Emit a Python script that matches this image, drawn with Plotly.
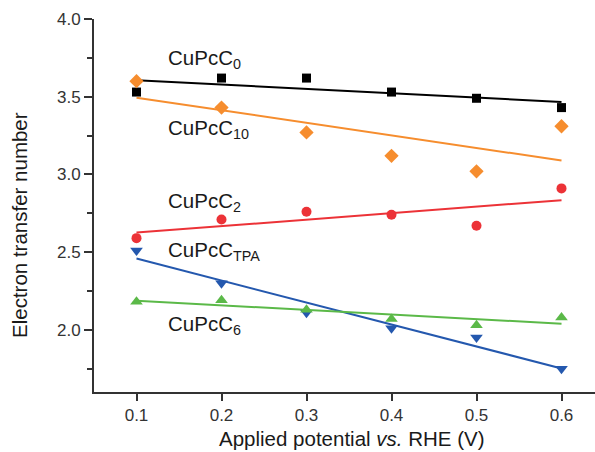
import numpy as np
import plotly.graph_objects as go

potential = [0.1, 0.2, 0.3, 0.4, 0.5, 0.6]
cupcc0 = [3.53, 3.62, 3.62, 3.53, 3.49, 3.43]
cupcc10 = [3.60, 3.43, 3.27, 3.12, 3.02, 3.31]
cupcc2 = [2.59, 2.71, 2.76, 2.74, 2.67, 2.91]
cupcctpa = [2.51, 2.30, 2.11, 2.01, 1.95, 1.75]
cupcc6 = [2.18, 2.19, 2.13, 2.07, 2.03, 2.08]

series_names = ["CuPcC<sub>0</sub>", "CuPcC<sub>10</sub>", "CuPcC<sub>2</sub>",
                "CuPcC<sub>TPA</sub>", "CuPcC<sub>6</sub>"]
series_values = [cupcc0, cupcc10, cupcc2, cupcctpa, cupcc6]
colors = ["#000000", "#F68D2E", "#EC3237", "#2458AE", "#5BB948"]
symbols = ["square", "diamond", "circle", "triangle-down", "triangle-up"]
msizes = [9, 11, 10, 11, 11]
label_x = [0.135, 0.135, 0.135, 0.135, 0.135]
label_y = [3.74, 3.29, 2.82, 2.51, 2.03]

FONT = "Liberation Sans, Arial, sans-serif"

fig = go.Figure()
xs = np.array(potential)
for name, vals, c, s, ms in zip(series_names, series_values, colors, symbols, msizes):
    k, b = np.polyfit(xs, np.array(vals), 1)
    xf = np.array([xs.min(), xs.max()])
    fig.add_trace(go.Scatter(x=xf, y=k * xf + b, mode="lines",
                             line=dict(color=c, width=2), showlegend=False,
                             hoverinfo="skip"))
    fig.add_trace(go.Scatter(x=potential, y=vals, mode="markers", name=name,
                             marker=dict(symbol=s, size=ms, color=c,
                                         line=dict(width=0)),
                             showlegend=False))

annotations = []
for name, lx, ly in zip(series_names, label_x, label_y):
    annotations.append(dict(x=lx, y=ly, xref="x", yref="y", text=name,
                            showarrow=False, xanchor="left", yanchor="middle",
                            font=dict(family=FONT, size=20.5, color="#1a1a1a")))

annotations.append(dict(x=(352 - 94) / 501, y=(392 - 438) / 373, xref="paper", yref="paper",
                        text="Applied potential <i>vs.</i> RHE (V)", showarrow=False,
                        xanchor="center", yanchor="middle",
                        font=dict(family=FONT, size=20.5, color="#1a1a1a")))
annotations.append(dict(x=(20 - 94) / 501, y=(392 - 225) / 373, xref="paper", yref="paper",
                        text="Electron transfer number", showarrow=False, textangle=-90,
                        xanchor="center", yanchor="middle",
                        font=dict(family=FONT, size=20.5, color="#1a1a1a")))

fig.update_layout(
    width=595, height=452,
    margin=dict(l=94, r=0, t=19, b=60),
    plot_bgcolor="white", paper_bgcolor="white",
    font=dict(family=FONT, size=17, color="#333333"),
    annotations=annotations,
    xaxis=dict(range=[0.05, 0.05 + 501 / 850], tickmode="array",
               tickvals=potential, ticktext=["0.1", "0.2", "0.3", "0.4", "0.5", "0.6"],
               ticks="outside", ticklen=7, tickwidth=2, tickcolor="#333333",
               showline=True, linecolor="#333333", linewidth=2,
               showgrid=False, zeroline=False,
               tickfont=dict(family=FONT, size=17, color="#333333")),
    yaxis=dict(range=[1.6, 4.0001], tick0=2.0, dtick=0.5, tickformat=".1f",
               ticks="outside", ticklen=8, tickwidth=2, tickcolor="#333333",
               minor=dict(ticks="outside", ticklen=5, tickwidth=2, tickcolor="#333333",
                          dtick=0.25, tick0=1.75),
               showline=True, linecolor="#333333", linewidth=2,
               showgrid=False, zeroline=False,
               tickfont=dict(family=FONT, size=17, color="#333333")),
)

fig.write_html("out.html", config={"displayModeBar": False},
               post_script="document.body.style.margin='0';document.body.style.overflow='hidden';")
